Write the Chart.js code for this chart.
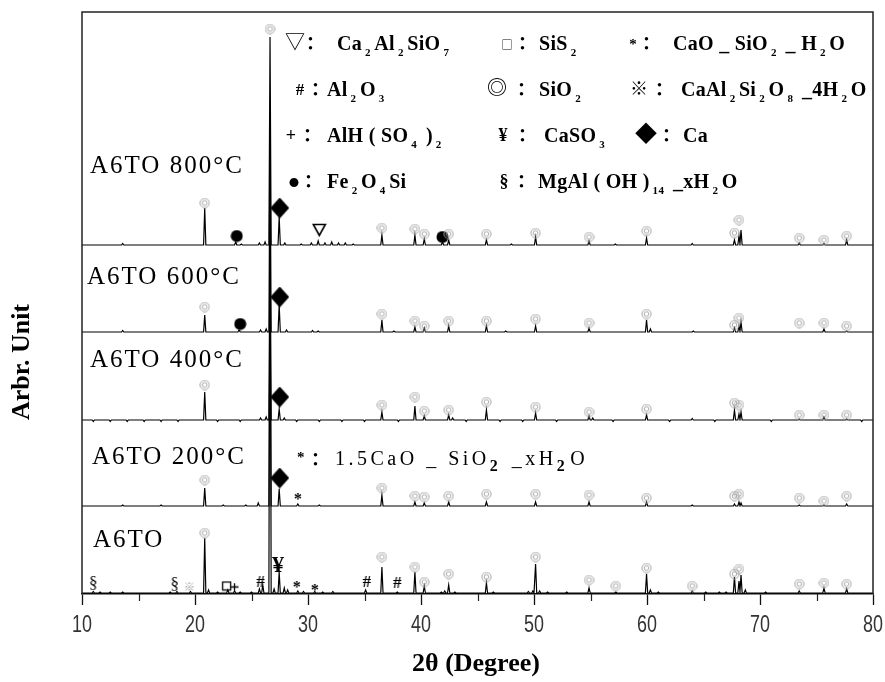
<!DOCTYPE html>
<html>
<head>
<meta charset="utf-8">
<script src="https://cdn.jsdelivr.net/npm/chart.js@4"></script>
<style>
  html, body { margin: 0; padding: 0; background: #fff; }
</style>
</head>
<body>
<canvas id="xrd" width="885" height="682"></canvas>
<script>
(function () {
  'use strict';

  /* global Chart */

  // ---- data (2theta in degrees, intensity in arbitrary units) ----
  var xTickValues = [10, 20, 30, 40, 50, 60, 70, 80];
  var xMinorTicks = [15, 25, 35, 45, 55, 65, 75];

  var sampleNames = ['A6TO 800°C', 'A6TO 600°C', 'A6TO 400°C', 'A6TO 200°C', 'A6TO'];
  var sampleBase = [349, 262, 174, 88, 1];

  // [2theta, peak height]
  var peaks800 = [
    [13.6, 1.5], [20.86, 37], [23.6, 3], [24.1, 1], [25.7, 2], [26.2, 3], [26.64, 208],
    [27.45, 28], [27.95, 2], [29.4, 1], [30.3, 2], [30.9, 4], [31.5, 2], [32.1, 3],
    [32.7, 2], [33.3, 2], [34.0, 1], [36.54, 10], [39.46, 10], [40.29, 6], [41.9, 3],
    [42.45, 5], [45.79, 5], [48.0, 1], [50.14, 8], [54.87, 4], [57.2, 1], [59.96, 7],
    [64.0, 1.5], [67.74, 5], [68.14, 9], [68.32, 15], [73.47, 2], [75.66, 1.5], [77.67, 5]
  ];
  var peaks600 = [
    [13.6, 1.5], [20.86, 17], [23.9, 2], [25.8, 2], [26.3, 3], [26.64, 202], [27.45, 27],
    [28.1, 2], [30.4, 1.5], [30.9, 1], [36.54, 12], [37.6, 1], [39.46, 5], [40.29, 4],
    [42.45, 6], [45.79, 6], [47.5, 1], [50.14, 6], [54.87, 4], [59.96, 12], [60.3, 3],
    [64.1, 1], [67.74, 4], [68.14, 6], [68.32, 10], [75.66, 3], [77.67, 1]
  ];
  var peaks400 = [
    [11.0, -1.5], [12.5, -1.5], [14.0, -1.5], [15.5, -1.5], [17.0, -1.5], [18.5, -1.5],
    [20.86, 28], [22.0, -1.5], [24.0, -1.5], [25.8, 2], [26.3, 3], [26.64, 170],
    [27.45, 11], [27.9, 2], [29.0, -1.5], [31.0, -1.5], [33.0, -1.5], [35.0, -1.5],
    [36.54, 8], [38.0, -1.5], [39.46, 14], [40.29, 4], [42.45, 5], [42.8, 2], [44.0, -1.5],
    [45.79, 10], [47.0, -1.5], [49.0, -1.5], [50.14, 7], [52.0, -1.5], [54.87, 4],
    [55.2, 2], [57.0, -1.5], [59.96, 5], [62.0, -1.5], [64.0, 1.5], [66.0, -1.5],
    [67.74, 10], [68.14, 6], [68.32, 8], [71.0, -1.5], [73.47, 1], [75.66, 3],
    [77.67, 1], [79.0, -1.5]
  ];
  var peaks200 = [
    [13.6, 1], [17.0, 1], [20.86, 18], [22.5, 1], [24.5, 1], [25.6, 3], [26.64, 208],
    [27.45, 17], [29.1, 2], [31.0, 1], [36.54, 11], [39.46, 4], [40.29, 3], [42.45, 4],
    [45.79, 4], [50.14, 4], [54.87, 4], [59.96, 4], [64.0, 1], [67.74, 2], [68.14, 4],
    [68.32, 3], [73.47, 1], [75.66, 1], [77.67, 2]
  ];
  var peaksRaw = [
    [11.0, 1.5], [11.6, 1], [12.5, 1], [13.6, 1], [17.8, 1], [18.4, 1.5], [19.6, 1.5],
    [20.86, 55], [21.2, 3], [22.0, 1], [22.9, 3], [23.5, 2], [24.0, 1], [25.0, 1],
    [25.7, 4], [26.0, 8], [26.64, 463], [27.0, 4], [27.45, 21], [27.9, 5], [28.2, 3],
    [29.1, 2], [29.6, 1.5], [30.6, 1.5], [31.3, 1], [32.2, 1.5], [35.1, 3], [36.54, 26],
    [37.9, 1], [39.46, 21], [40.29, 7], [41.8, 1], [42.1, 2], [42.45, 8], [43.0, 1],
    [45.79, 10], [46.4, 1], [49.5, 1.5], [49.9, 2], [50.14, 29], [50.5, 2], [51.2, 1],
    [52.9, 1], [54.87, 5], [57.24, 1], [59.96, 19], [60.3, 3], [61.0, 1], [64.0, 2],
    [65.2, 1], [66.4, 1], [67.0, 1], [67.74, 16], [68.14, 12], [68.32, 18], [68.7, 3],
    [70.5, 1], [73.47, 2], [75.66, 5], [77.67, 4]
  ];

  // phase markers: [2theta, sample index, height above that sample's baseline]
  var quartzMarks = [
    [26.64, 0, 216], [20.86, 0, 42], [36.54, 0, 17], [39.46, 0, 16], [40.29, 0, 11],
    [42.45, 0, 11], [45.79, 0, 11], [50.14, 0, 12], [54.87, 0, 8], [59.96, 0, 14],
    [67.74, 0, 12], [68.14, 0, 25], [73.47, 0, 7], [75.66, 0, 5], [77.67, 0, 9],
    [20.86, 1, 25], [36.54, 1, 18], [39.46, 1, 11], [40.29, 1, 6], [42.45, 1, 11],
    [45.79, 1, 11], [50.14, 1, 13], [54.87, 1, 9], [59.96, 1, 18], [67.74, 1, 7],
    [68.14, 1, 14], [73.47, 1, 9], [75.66, 1, 9], [77.67, 1, 6],
    [20.86, 2, 35], [36.54, 2, 15], [39.46, 2, 23], [40.29, 2, 9], [42.45, 2, 10],
    [45.79, 2, 18], [50.14, 2, 13], [54.87, 2, 8], [59.96, 2, 11], [67.74, 2, 17],
    [68.14, 2, 15], [73.47, 2, 5], [75.66, 2, 5], [77.67, 2, 5],
    [20.86, 3, 26], [36.54, 3, 18], [39.46, 3, 10], [40.29, 3, 9], [42.45, 3, 10],
    [45.79, 3, 12], [50.14, 3, 12], [54.87, 3, 11], [59.96, 3, 8], [67.74, 3, 10],
    [68.14, 3, 12], [73.47, 3, 8], [75.66, 3, 5], [77.67, 3, 10],
    [20.86, 4, 60], [36.54, 4, 36], [39.46, 4, 26], [40.29, 4, 11], [42.45, 4, 19],
    [45.79, 4, 16], [50.14, 4, 36], [54.87, 4, 13], [57.24, 4, 7], [59.96, 4, 25],
    [64.0, 4, 7], [67.74, 4, 19], [68.14, 4, 24], [73.47, 4, 9], [75.66, 4, 10],
    [77.67, 4, 9]
  ];
  var caMarks = [[27.5, 0, 37], [27.5, 1, 35], [27.5, 2, 23], [27.5, 3, 28]];
  var fe2o4siMarks = [[23.7, 0, 9], [41.9, 0, 8], [24.0, 1, 8]];
  var gehleniteMarks = [[31.0, 0, 15]];
  var csHMarks = [[29.1, 3, 9], [29.0, 4, 8], [30.6, 4, 5]];
  var al2o3Marks = [[25.8, 4, 11], [35.2, 4, 11], [37.9, 4, 10]];
  var mgAlMarks = [[11.0, 4, 10], [18.2, 4, 9]];
  var caAlSiMarks = [[19.5, 4, 6]];
  var sis2Marks = [[22.8, 4, 7]];
  var alhMarks = [[23.5, 4, 6]];
  var caso3Marks = [[27.35, 4, 28]];

  // ---- helpers ----
  var PEAK_W = 0.1;
  var SERIF = '"Liberation Serif", "Times New Roman", serif';
  var CJK = '"Noto Sans CJK SC", "DejaVu Sans", sans-serif';
  var NARROW = '"Liberation Sans Narrow", "Liberation Sans", sans-serif';

  function buildTrace(peaks, base) {
    var pts = [{ x: 10, y: base }];
    peaks.forEach(function (p) {
      pts.push({ x: p[0] - PEAK_W, y: base });
      pts.push({ x: p[0], y: base + p[1] });
      pts.push({ x: p[0] + PEAK_W, y: base });
    });
    pts.push({ x: 80, y: base });
    return pts;
  }

  function markPoints(list) {
    return list.map(function (m) { return { x: m[0], y: sampleBase[m[1]] + m[2] }; });
  }

  function glyph(w, h, draw) {
    var c = document.createElement('canvas');
    c.width = w; c.height = h;
    draw(c.getContext('2d'), w, h);
    return c;
  }

  function textGlyph(txt, font, color, w, h, dy) {
    return glyph(w, h, function (g) {
      g.font = font;
      g.fillStyle = color;
      g.textAlign = 'center';
      g.textBaseline = 'middle';
      g.fillText(txt, w / 2, h / 2 + (dy || 0));
    });
  }

  var quartzGlyph = glyph(11, 11, function (g) {
    g.strokeStyle = '#a3a3a3'; g.lineWidth = 1;
    g.beginPath(); g.arc(5.5, 5.5, 4.6, 0, Math.PI * 2); g.stroke();
    g.beginPath(); g.arc(5.5, 5.5, 2.3, 0, Math.PI * 2); g.stroke();
  });
  var diamondGlyph = glyph(19, 21, function (g) {
    g.fillStyle = '#000';
    g.beginPath(); g.moveTo(9.5, 0); g.lineTo(19, 10.5); g.lineTo(9.5, 21); g.lineTo(0, 10.5);
    g.closePath(); g.fill();
  });
  var dotGlyph = glyph(13, 13, function (g) {
    g.fillStyle = '#000';
    g.beginPath(); g.arc(6.5, 6.5, 6, 0, Math.PI * 2); g.fill();
  });
  var triGlyph = glyph(15, 14, function (g) {
    g.strokeStyle = '#000'; g.lineWidth = 1.6;
    g.beginPath(); g.moveTo(1.5, 1.5); g.lineTo(13.5, 1.5); g.lineTo(7.5, 12.5); g.closePath(); g.stroke();
  });
  var squareGlyph = glyph(11, 11, function (g) {
    g.strokeStyle = '#000'; g.lineWidth = 1.3;
    g.strokeRect(1.5, 1.5, 8, 8);
  });
  var plusGlyph = glyph(9, 9, function (g) {
    g.strokeStyle = '#000'; g.lineWidth = 1.3;
    g.beginPath(); g.moveTo(4.5, 0.5); g.lineTo(4.5, 8.5); g.moveTo(0.5, 4.5); g.lineTo(8.5, 4.5); g.stroke();
  });
  var hashGlyph = textGlyph('#', 'bold 17px ' + SERIF, '#000', 14, 16, 1);
  var sectGlyph = textGlyph('§', '17px ' + SERIF, '#000', 12, 18, 1);
  var yenGlyph = textGlyph('¥', 'bold 24px ' + SERIF, '#000', 16, 22, 1);
  var starGlyph = textGlyph('*', 'bold 16px ' + SERIF, '#000', 10, 12, 3);
  var komeGlyph = textGlyph('※', '11px ' + CJK, '#999', 12, 12, 0);

  function markDataset(list, style) {
    return {
      type: 'line', data: markPoints(list), showLine: false, order: 0,
      pointStyle: style, pointRadius: 5, clip: false
    };
  }

  var traceSets = [peaks800, peaks600, peaks400, peaks200, peaksRaw].map(function (pk, i) {
    return {
      label: sampleNames[i], data: buildTrace(pk, sampleBase[i]), order: 1,
      borderColor: '#000', borderWidth: 1.2, pointRadius: 0, tension: 0, fill: false
    };
  });

  var markSets = [
    markDataset(quartzMarks, quartzGlyph),
    markDataset(caMarks, diamondGlyph),
    markDataset(fe2o4siMarks, dotGlyph),
    markDataset(gehleniteMarks, triGlyph),
    markDataset(csHMarks, starGlyph),
    markDataset(al2o3Marks, hashGlyph),
    markDataset(mgAlMarks, sectGlyph),
    markDataset(caAlSiMarks, komeGlyph),
    markDataset(sis2Marks, squareGlyph),
    markDataset(alhMarks, plusGlyph),
    markDataset(caso3Marks, yenGlyph)
  ];

  // ---- text drawn over the chart ----
  function richText(ctx, x, y, parts, font, subFont) {
    var cx = x;
    parts.forEach(function (p, i) {
      if (i % 2 === 0) {
        ctx.font = font;
        ctx.fillText(p, cx, y);
        cx += ctx.measureText(p).width;
      } else {
        ctx.font = subFont;
        cx += 3;
        ctx.fillText(p, cx, y + 6);
        cx += ctx.measureText(p).width + 3.5;
      }
    });
  }

  var legendRows = [
    { y: 50, items: [
      { sym: '▽', f: '20px ' + CJK, cx: 295, col: 315, tx: 337, parts: ['Ca', '2', 'Al', '2', 'SiO', '7'] },
      { sym: '□', f: '11px ' + CJK, cx: 507, col: 527, tx: 539, parts: ['SiS', '2'] },
      { sym: '*', f: 'bold 15px ' + SERIF, cx: 633, col: 651, tx: 673, parts: ['CaO _ SiO', '2', ' _ H', '2', 'O'] }
    ] },
    { y: 96, items: [
      { sym: '#', f: 'bold 17px ' + SERIF, cx: 300, col: 320, tx: 327, parts: ['Al', '2', 'O', '3'] },
      { sym: '◎', f: 'bold 20px ' + CJK, cx: 497, col: 526, tx: 539, parts: ['SiO', '2'] },
      { sym: '※', f: 'bold 18px ' + CJK, cx: 639, col: 664, tx: 681, parts: ['CaAl', '2', 'Si', '2', 'O', '8', ' _4H', '2', 'O'] }
    ] },
    { y: 142, items: [
      { sym: '+', f: 'bold 18px ' + SERIF, cx: 291, col: 312, tx: 327, parts: ['AlH ( SO', '4', ' )', '2'] },
      { sym: '¥', f: 'bold 18px ' + SERIF, cx: 503, col: 527, tx: 544, parts: ['CaSO', '3'] },
      { sym: '◆', f: '22px ' + CJK, cx: 646, col: 671, tx: 683, parts: ['Ca'] }
    ] },
    { y: 188, items: [
      { sym: '●', f: '10px ' + CJK, cx: 294, col: 313, tx: 327, parts: ['Fe', '2', 'O', '4', 'Si'] },
      { sym: '§', f: 'bold 18px ' + SERIF, cx: 504, col: 526, tx: 538, parts: ['MgAl ( OH )', '14', ' _xH', '2', 'O'] }
    ] }
  ];

  var sampleLabelPos = [[90, 173], [87, 284], [90, 367], [92, 464], [93, 547]];

  var overlayPlugin = {
    id: 'overlay',
    afterDraw: function (chart) {
      var ctx = chart.ctx;
      var a = chart.chartArea;
      var xs = chart.scales.x;
      ctx.save();

      // frame
      ctx.strokeStyle = '#222';
      ctx.lineWidth = 1.5;
      ctx.beginPath();
      ctx.moveTo(a.left, a.bottom); ctx.lineTo(a.left, a.top);
      ctx.lineTo(a.right, a.top); ctx.lineTo(a.right, a.bottom);
      ctx.stroke();

      // minor ticks
      ctx.lineWidth = 1.2;
      ctx.beginPath();
      xMinorTicks.forEach(function (v) {
        var px = Math.round(xs.getPixelForValue(v)) + 0.5;
        ctx.moveTo(px, a.bottom); ctx.lineTo(px, a.bottom + 7);
      });
      ctx.stroke();

      // tick labels, narrow face
      ctx.fillStyle = '#333';
      ctx.textAlign = 'center';
      ctx.textBaseline = 'alphabetic';
      ctx.font = '23px ' + NARROW;
      xTickValues.forEach(function (v) {
        ctx.save();
        ctx.translate(xs.getPixelForValue(v), a.bottom + 38);
        ctx.scale(0.78, 1);
        ctx.fillText(String(v), 0, 0);
        ctx.restore();
      });

      ctx.fillStyle = '#000';
      ctx.textAlign = 'left';

      // legend
      legendRows.forEach(function (row) {
        row.items.forEach(function (it) {
          ctx.letterSpacing = '0px';
          ctx.textAlign = 'center';
          ctx.font = it.f;
          ctx.fillText(it.sym, it.cx, row.y - 1);
          ctx.font = 'bold 18px ' + CJK;
          ctx.fillText('：', it.col, row.y - 1);
          ctx.textAlign = 'left';
          ctx.letterSpacing = '0.3px';
          richText(ctx, it.tx, row.y, it.parts, 'bold 20px ' + SERIF, 'bold 11px ' + SERIF);
        });
      });

      // sample labels
      ctx.font = '25px ' + SERIF;
      ctx.letterSpacing = '2px';
      sampleNames.forEach(function (n, i) {
        ctx.fillText(n, sampleLabelPos[i][0], sampleLabelPos[i][1]);
      });

      // C-S-H note
      ctx.letterSpacing = '3.5px';
      ctx.font = 'bold 15px ' + SERIF;
      ctx.fillText('*', 297, 462);
      ctx.font = 'bold 18px ' + CJK;
      ctx.fillText('：', 311, 465);
      richNote(ctx, 335, 465);
      ctx.letterSpacing = '0px';

      // axis titles
      ctx.textAlign = 'center';
      ctx.font = 'bold 26px ' + SERIF;
      ctx.fillText('2θ (Degree)', 476, 671);
      ctx.translate(29, 362);
      ctx.rotate(-Math.PI / 2);
      ctx.fillText('Arbr. Unit', 0, 0);
      ctx.restore();
    }
  };

  function richNote(ctx, x, y) {
    var parts = ['1.5CaO _ SiO', '2', ' _xH', '2', 'O'];
    var cx = x;
    parts.forEach(function (p, i) {
      if (i % 2 === 0) {
        ctx.font = '20px ' + SERIF;
        ctx.fillText(p, cx, y);
        cx += ctx.measureText(p).width;
      } else {
        ctx.font = 'bold 16px ' + SERIF;
        ctx.fillText(p, cx, y + 6);
        cx += ctx.measureText(p).width + 2;
      }
    });
  }

  new Chart(document.getElementById('xrd'), {
    type: 'line',
    data: { datasets: markSets.concat(traceSets) },
    options: {
      responsive: false,
      animation: false,
      devicePixelRatio: 1,
      events: [],
      layout: { padding: { left: 82, right: 12, top: 12, bottom: 0 } },
      plugins: { legend: { display: false }, tooltip: { enabled: false } },
      scales: {
        x: {
          type: 'linear', min: 10, max: 80,
          afterBuildTicks: function (s) {
            s.ticks = xTickValues.map(function (v) { return { value: v }; });
          },
          afterFit: function (s) { s.height = 88; },
          border: { display: true, color: '#111', width: 1.5 },
          grid: { display: true, drawOnChartArea: false, drawTicks: true, tickLength: 11, tickColor: '#111', tickWidth: 1.3 },
          ticks: { display: false }
        },
        y: { display: false, min: 0, max: 582 }
      }
    },
    plugins: [overlayPlugin]
  });
})();
</script>
</body>
</html>
